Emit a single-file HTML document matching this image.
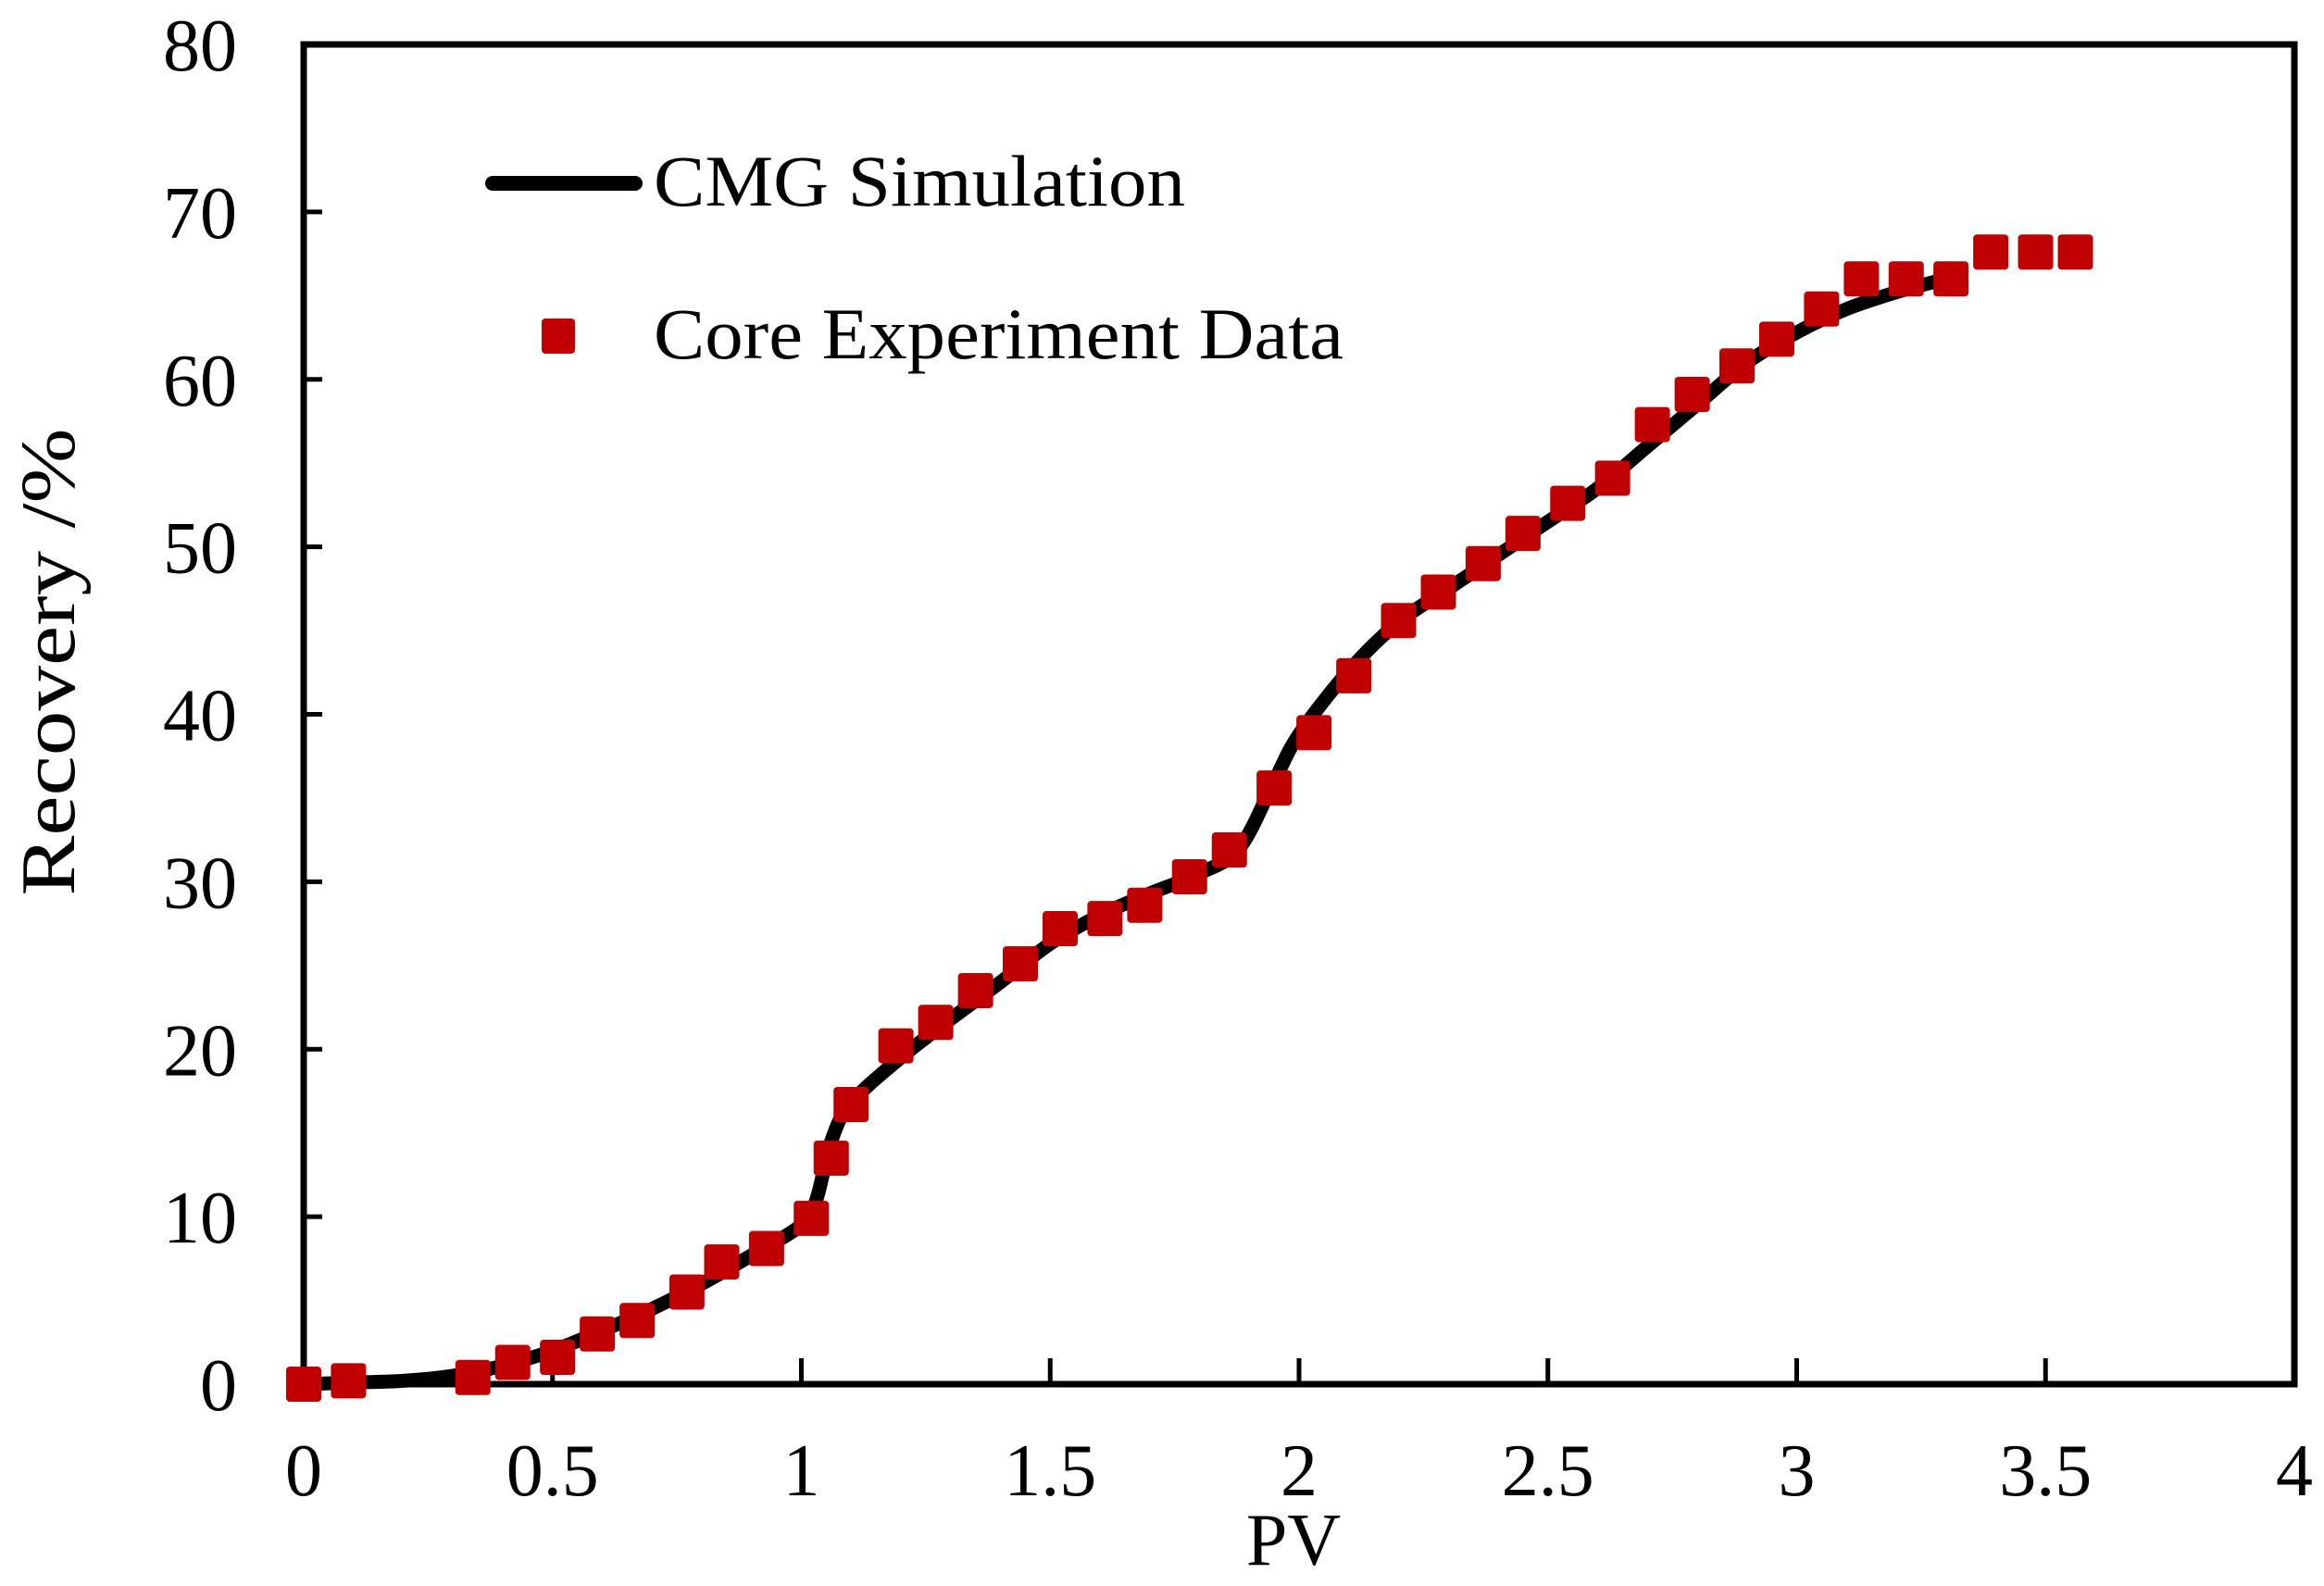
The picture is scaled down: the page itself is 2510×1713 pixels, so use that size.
<!DOCTYPE html>
<html><head><meta charset="utf-8"><style>
html,body{margin:0;padding:0;background:#fff;}
svg{display:block;font-family:"Liberation Serif",serif;}
</style></head><body>
<svg id="chart" width="2510" height="1713" viewBox="0 0 2510 1713" xmlns="http://www.w3.org/2000/svg">
<g id="axes"></g>
<g id="series"></g>
<g>
  <line x1="532" y1="198" x2="686" y2="198" stroke="#000" stroke-width="16" stroke-linecap="round"/>
  <text x="706" y="222" font-size="78" textLength="574" lengthAdjust="spacingAndGlyphs">CMG Simulation</text>
  <rect x="585" y="344" width="36" height="38" rx="4" fill="#c00000"/>
  <text x="706" y="387" font-size="78" textLength="745" lengthAdjust="spacingAndGlyphs">Core Experiment Data</text>
</g>
<text x="1397" y="1690" font-size="80" text-anchor="middle">PV</text>
<text transform="translate(80,715) rotate(-90)" font-size="84" text-anchor="middle" textLength="505" lengthAdjust="spacingAndGlyphs">Recovery /%</text>
</svg>
<script>
const xTicks = [0, 0.5, 1, 1.5, 2, 2.5, 3, 3.5, 4];
const xTickLabels = ["0", "0.5", "1", "1.5", "2", "2.5", "3", "3.5", "4"];
const yTicks = [0, 10, 20, 30, 40, 50, 60, 70, 80];
const yTickLabels = ["0", "10", "20", "30", "40", "50", "60", "70", "80"];
const expPV = [0,0.09,0.34,0.42,0.51,0.59,0.67,0.77,0.84,0.93,1.02,1.06,1.10,1.19,1.27,1.35,1.44,1.52,1.61,1.69,1.78,1.86,1.95,2.03,2.11,2.20,2.28,2.37,2.45,2.54,2.63,2.71,2.79,2.88,2.96,3.05,3.13,3.22,3.31,3.39,3.48,3.56];
const expRecovery = [0,0.2,0.4,1.3,1.6,3.0,3.8,5.5,7.3,8.1,9.9,13.5,16.7,20.2,21.6,23.5,25.1,27.2,27.8,28.6,30.3,31.9,35.6,38.9,42.3,45.6,47.3,49.0,50.8,52.6,54.1,57.3,59.1,60.8,62.4,64.2,66.0,66.0,66.0,67.6,67.6,67.6];
const simPV = [0,0.1,0.2,0.3,0.4,0.5,0.6,0.7,0.8,0.9,1.0,1.03,1.06,1.1,1.2,1.3,1.4,1.5,1.6,1.7,1.8,1.88,1.95,2.0,2.1,2.2,2.3,2.4,2.5,2.6,2.7,2.8,2.9,3.0,3.1,3.2,3.3];
const simRecovery = [0,0.1,0.2,0.5,1.1,2.0,3.2,4.5,6.0,7.7,9.5,11,14.5,16.8,19.5,21.8,24.0,26.3,28.0,29.3,30.5,32,36,38.8,42.6,45.5,47.5,49.5,51.5,53.5,56,58.5,61,62.8,64.2,65.2,66];

const L=328,R=2478,T=48,B=1495;
const xS=v=>L+(v-0)/(4-0)*(R-L);
const yS=v=>B-(v-0)/(80-0)*(B-T);
const NS="http://www.w3.org/2000/svg";
const axes=document.getElementById('axes');
const series=document.getElementById('series');
function mk(tag,attrs,parent){const e=document.createElementNS(NS,tag);for(const k in attrs)e.setAttribute(k,attrs[k]);parent.appendChild(e);return e;}

const frame=mk('rect',{x:L,y:T,width:R-L,height:B-T,fill:'none',stroke:'#000','stroke-width':7},axes);


xTicks.forEach((v,i)=>{
  const t=mk('line',{x1:xS(v),x2:xS(v),y1:B,y2:B-28,stroke:'#000','stroke-width':5},axes);
  
  
  const lb=mk('text',{x:xS(v),y:B+120,'font-size':80,'text-anchor':'middle'},axes);
  lb.textContent=xTickLabels[i];
  
  
});
yTicks.forEach((v,i)=>{
  const t=mk('line',{x1:L,x2:L+20,y1:yS(v),y2:yS(v),stroke:'#000','stroke-width':5},axes);
  
  
  const lb=mk('text',{x:256,y:yS(v)+28,'font-size':80,'text-anchor':'end'},axes);
  lb.textContent=yTickLabels[i];
  
  
});
const pts=simPV.map((v,i)=>[xS(v),yS(simRecovery[i])]);
let d='M'+pts[0][0]+','+pts[0][1];
for(let i=0;i<pts.length-1;i++){
  const p0=pts[Math.max(0,i-1)],p1=pts[i],p2=pts[i+1],p3=pts[Math.min(pts.length-1,i+2)];
  const c1=[p1[0]+(p2[0]-p0[0])/6,p1[1]+(p2[1]-p0[1])/6];
  const c2=[p2[0]-(p3[0]-p1[0])/6,p2[1]-(p3[1]-p1[1])/6];
  d+=` C${c1[0]},${c1[1]} ${c2[0]},${c2[1]} ${p2[0]},${p2[1]}`;
}
const line=mk('path',{d:d,fill:'none',stroke:'#000','stroke-width':15,'stroke-linecap':'round','stroke-linejoin':'round'},series);


expPV.forEach((v,i)=>{
  const m=mk('rect',{x:xS(v)-19,y:yS(expRecovery[i])-19,width:38,height:38,rx:4,fill:'#c00000'},series);
  
  
});
</script>
</body></html>
